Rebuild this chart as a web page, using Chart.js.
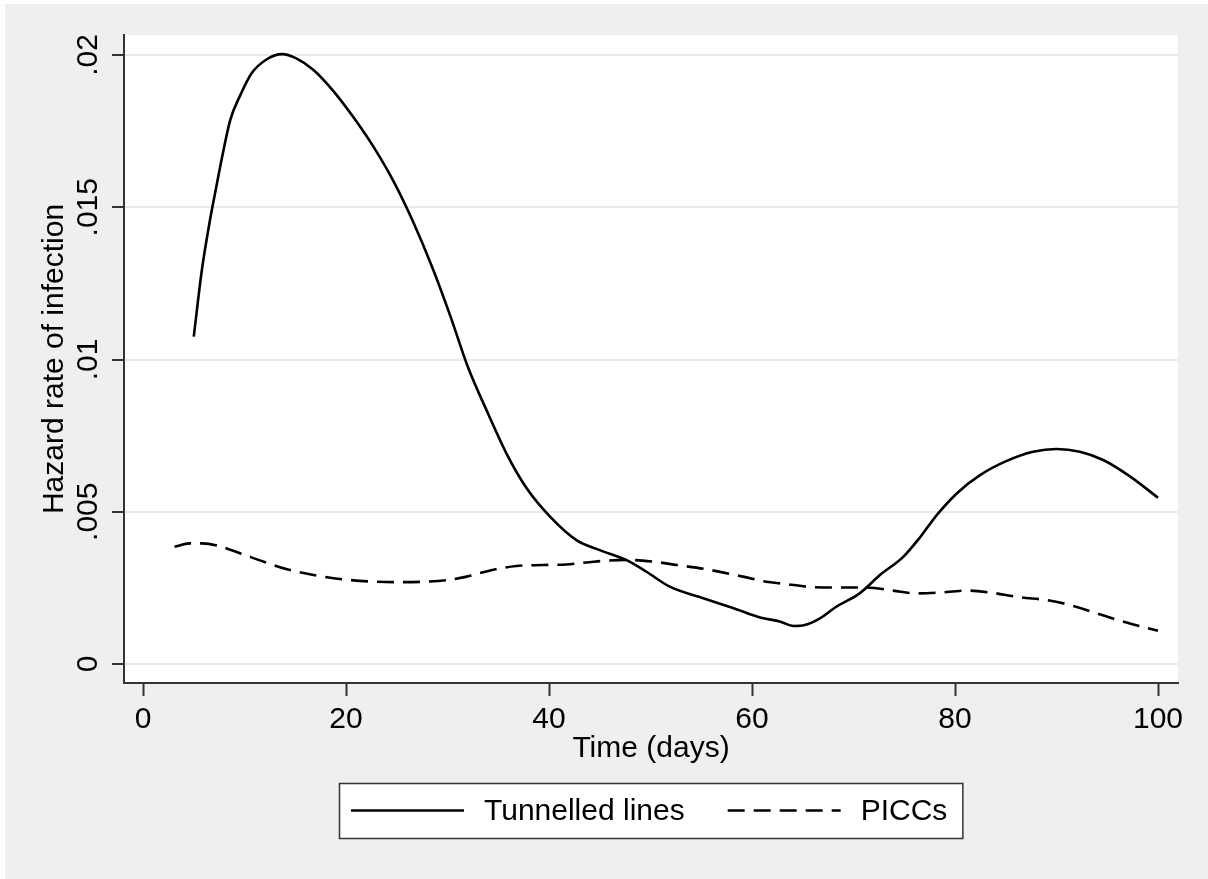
<!DOCTYPE html>
<html>
<head>
<meta charset="utf-8">
<script src="https://cdn.jsdelivr.net/npm/chart.js@4.4.0/dist/chart.umd.min.js"></script>
<style>
html,body{margin:0;padding:0;background:#ffffff;}
canvas{display:block;}
</style>
</head>
<body>
<canvas id="c" width="1208" height="879"></canvas>
<script>
// ---- Data ----
const tunnelledDays = [5, 5.8, 6.6, 7.1, 7.8, 8.6, 9.6, 10.7, 12.2, 13.7, 15.1, 16.8, 18.8, 20.7, 22.7, 24.7, 26.6, 28.6, 30.3, 32.0, 34.0, 35.8, 37.8, 40.1, 42.7, 45.0, 47.6, 49.6, 51.9, 55.2, 58.2, 60.8, 62.8, 64.1, 65.2, 66.7, 68.3, 70.6, 72.6, 74.9, 76.6, 78.2, 80.2, 82.5, 85.1, 87.7, 90.0, 92.3, 94.6, 97.2, 100];
const tunnelledHazard = [0.01075, 0.01294, 0.01458, 0.01546, 0.01666, 0.01787, 0.01869, 0.0194, 0.01986, 0.02003, 0.01989, 0.01951, 0.0188, 0.01797, 0.01699, 0.01584, 0.01453, 0.01294, 0.01141, 0.00976, 0.00822, 0.00692, 0.00577, 0.00484, 0.00407, 0.00374, 0.00342, 0.00303, 0.00254, 0.00216, 0.00183, 0.00153, 0.00139, 0.00125, 0.00128, 0.0015, 0.00188, 0.00232, 0.00292, 0.00352, 0.00418, 0.00489, 0.00561, 0.00621, 0.00667, 0.00697, 0.00706, 0.00697, 0.0067, 0.00617, 0.00546];
const piccDays = [3.1, 4.6, 5.8, 7.3, 9.6, 11.9, 14.2, 16.8, 19.7, 22.4, 25.0, 27.6, 29.9, 31.9, 34.3, 36.8, 39.4, 41.7, 44.4, 47.6, 50.3, 52.6, 55.5, 59.1, 61.4, 63.0, 65.4, 68.0, 71.3, 73.9, 76.2, 78.2, 81.2, 83.4, 86.4, 89.0, 91.3, 94.0, 96.9, 100];
const piccHazard = [0.00385, 0.00396, 0.00396, 0.00389, 0.00363, 0.00336, 0.00311, 0.00292, 0.00278, 0.00271, 0.00269, 0.0027, 0.00275, 0.00287, 0.00308, 0.00322, 0.00325, 0.00327, 0.00336, 0.00342, 0.00336, 0.00325, 0.00311, 0.00287, 0.0027, 0.00264, 0.00254, 0.00251, 0.00251, 0.00241, 0.00232, 0.00234, 0.00241, 0.00235, 0.00219, 0.0021, 0.00194, 0.00166, 0.00136, 0.00109];
const seriesLabels = ['Tunnelled lines', 'PICCs'];
const xTickValues = [0, 20, 40, 60, 80, 100];
const xTickLabels = ['0', '20', '40', '60', '80', '100'];
const yTickValues = [0, 0.005, 0.01, 0.015, 0.02];
const yTickLabels = ['0', '.005', '.01', '.015', '.02'];
const xAxisTitle = 'Time (days)';
const yAxisTitle = 'Hazard rate of infection';

// ---- Styling / layout ----
const FONT_FAMILY = "'Liberation Sans', Arial, sans-serif";
const FONT_SIZE = 30;
const INK = '#000000';
const AXIS = '#333333';
const GRID = '#e9e9e9';
const PAGE_BG = '#efefef';

Chart.defaults.font.family = FONT_FAMILY;
Chart.defaults.font.size = FONT_SIZE;
Chart.defaults.color = INK;

function toPoints(xs, ys) { return xs.map((x, i) => ({ x: x, y: ys[i] })); }

const backgroundPlugin = {
  id: 'stataBackground',
  beforeDraw(chart) {
    const ctx = chart.ctx;
    const a = chart.chartArea;
    ctx.save();
    ctx.fillStyle = '#ffffff';
    ctx.fillRect(0, 0, chart.width, chart.height);
    ctx.fillStyle = PAGE_BG;
    ctx.fillRect(5, 4, chart.width - 5, chart.height - 4);
    ctx.fillStyle = '#ffffff';
    ctx.fillRect(a.left, a.top, a.right - a.left, a.bottom - a.top);
    ctx.restore();
  }
};

const boxLegendPlugin = {
  id: 'boxLegend',
  afterDraw(chart) {
    const ctx = chart.ctx;
    const a = chart.chartArea;
    const ds = chart.data.datasets;
    ctx.save();
    ctx.font = FONT_SIZE + 'px ' + FONT_FAMILY;
    const sampleW = 113, sampleGap = 20, itemGap = 43, padL = 12, padR = 15;
    const widths = ds.map(d => ctx.measureText(d.label).width);
    let total = padL + padR;
    widths.forEach((w, i) => { total += sampleW + sampleGap + w + (i > 0 ? itemGap : 0); });
    const cx = (a.left + a.right) / 2;
    const bx = Math.round(cx - total / 2), by = 783, bh = 55;
    ctx.fillStyle = '#ffffff';
    ctx.fillRect(bx, by, total, bh);
    ctx.strokeStyle = AXIS;
    ctx.lineWidth = 1.5;
    ctx.strokeRect(bx + 0.5, by + 0.5, total, bh);
    let x = bx + padL;
    const midY = by + bh / 2;
    ds.forEach((d, i) => {
      if (i > 0) x += itemGap;
      ctx.beginPath();
      ctx.setLineDash(d.borderDash || []);
      ctx.strokeStyle = d.borderColor;
      ctx.lineWidth = d.borderWidth;
      ctx.moveTo(x, midY);
      ctx.lineTo(x + sampleW, midY);
      ctx.stroke();
      ctx.setLineDash([]);
      x += sampleW + sampleGap;
      ctx.fillStyle = INK;
      ctx.textAlign = 'left';
      ctx.textBaseline = 'middle';
      ctx.fillText(d.label, x, midY + 1);
      x += widths[i];
    });
    ctx.restore();
  }
};

new Chart(document.getElementById('c'), {
  type: 'line',
  data: {
    datasets: [
      {
        label: seriesLabels[0],
        data: toPoints(tunnelledDays, tunnelledHazard),
        borderColor: '#000000',
        borderWidth: 2.6,
        pointRadius: 0,
        fill: false,
        cubicInterpolationMode: 'monotone'
      },
      {
        label: seriesLabels[1],
        data: toPoints(piccDays, piccHazard),
        borderColor: '#000000',
        borderWidth: 2.6,
        borderDash: [17, 9],
        pointRadius: 0,
        fill: false,
        cubicInterpolationMode: 'monotone'
      }
    ]
  },
  options: {
    responsive: false,
    animation: false,
    devicePixelRatio: 1,
    layout: { padding: { left: 0, top: 35, right: 30, bottom: 0 } },
    plugins: { legend: { display: false }, tooltip: { enabled: false } },
    scales: {
      x: {
        type: 'linear',
        min: -1.872,
        max: 101.97,
        afterFit(s) { s.height = 879 - 683; },
        afterBuildTicks(s) { s.ticks = xTickValues.map(v => ({ value: v })); },
        ticks: {
          color: INK,
          padding: 6,
          maxRotation: 0,
          callback(v) { const i = xTickValues.indexOf(v); return i >= 0 ? xTickLabels[i] : ''; }
        },
        grid: { drawOnChartArea: false, drawTicks: true, tickLength: 13, tickColor: AXIS, tickWidth: 2 },
        border: { display: true, color: AXIS, width: 2 },
        title: { display: true, text: xAxisTitle, color: INK, padding: { top: 0, bottom: 112 } }
      },
      y: {
        type: 'linear',
        min: -0.000624,
        max: 0.020657,
        afterFit(s) { s.width = 124; },
        afterBuildTicks(s) { s.ticks = yTickValues.map(v => ({ value: v })); },
        ticks: {
          color: INK,
          minRotation: 90,
          maxRotation: 90,
          crossAlign: 'center',
          padding: -6,
          callback(v) { const i = yTickValues.indexOf(v); return i >= 0 ? yTickLabels[i] : ''; }
        },
        grid: { color: GRID, lineWidth: 2, drawTicks: true, tickLength: 12, tickColor: AXIS, tickWidth: 2 },
        border: { display: true, color: AXIS, width: 2 },
        title: { display: true, text: yAxisTitle, color: INK, padding: { top: 37, bottom: 0 } }
      }
    }
  },
  plugins: [backgroundPlugin, boxLegendPlugin]
});
</script>
</body>
</html>
